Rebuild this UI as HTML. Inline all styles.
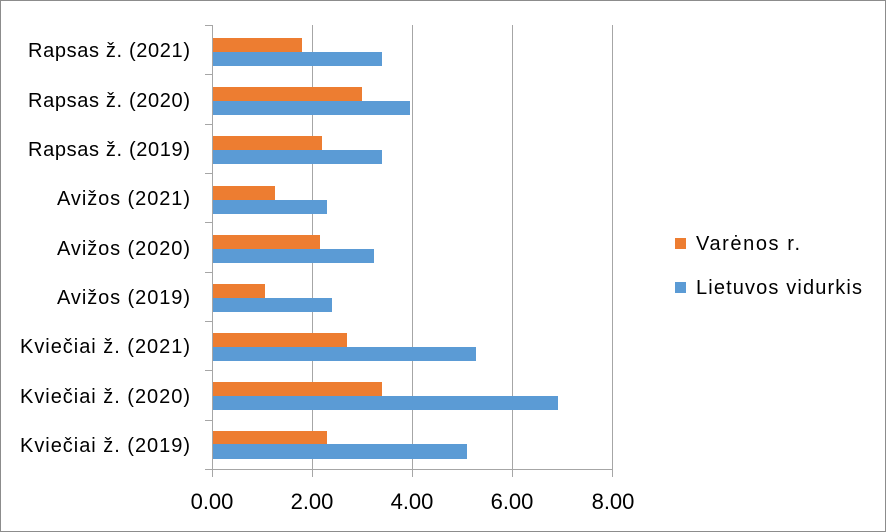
<!DOCTYPE html>
<html><head><style>body{margin:0;background:#fff}svg{display:block}text{font-family:"Liberation Sans",sans-serif;fill:#000}</style></head>
<body>
<svg width="886" height="532" viewBox="0 0 886 532" xmlns="http://www.w3.org/2000/svg">
<rect x="0.5" y="0.5" width="885" height="531" fill="#fff" stroke="#8c8c8c"/>
<g stroke="#a6a6a6" stroke-width="1">
<line x1="312.5" y1="25" x2="312.5" y2="477"/>
<line x1="412.5" y1="25" x2="412.5" y2="477"/>
<line x1="512.5" y1="25" x2="512.5" y2="477"/>
<line x1="612.5" y1="25" x2="612.5" y2="477"/>
<line x1="212.5" y1="25" x2="212.5" y2="477"/>
<line x1="205" y1="469.5" x2="613" y2="469.5"/>
<line x1="205" y1="25.5" x2="212" y2="25.5"/>
<line x1="205" y1="74.5" x2="212" y2="74.5"/>
<line x1="205" y1="124.5" x2="212" y2="124.5"/>
<line x1="205" y1="173.5" x2="212" y2="173.5"/>
<line x1="205" y1="222.5" x2="212" y2="222.5"/>
<line x1="205" y1="272.5" x2="212" y2="272.5"/>
<line x1="205" y1="321.5" x2="212" y2="321.5"/>
<line x1="205" y1="370.5" x2="212" y2="370.5"/>
<line x1="205" y1="420.5" x2="212" y2="420.5"/>
</g>
<g>
<rect x="213" y="38" width="89" height="14" fill="#ed7d31"/><rect x="213" y="52" width="169" height="14" fill="#5b9bd5"/>
<rect x="213" y="87" width="149" height="14" fill="#ed7d31"/><rect x="213" y="101" width="197" height="14" fill="#5b9bd5"/>
<rect x="213" y="136" width="109" height="14" fill="#ed7d31"/><rect x="213" y="150" width="169" height="14" fill="#5b9bd5"/>
<rect x="213" y="186" width="62" height="14" fill="#ed7d31"/><rect x="213" y="200" width="114" height="14" fill="#5b9bd5"/>
<rect x="213" y="235" width="107" height="14" fill="#ed7d31"/><rect x="213" y="249" width="161" height="14" fill="#5b9bd5"/>
<rect x="213" y="284" width="52" height="14" fill="#ed7d31"/><rect x="213" y="298" width="119" height="14" fill="#5b9bd5"/>
<rect x="213" y="333" width="134" height="14" fill="#ed7d31"/><rect x="213" y="347" width="263" height="14" fill="#5b9bd5"/>
<rect x="213" y="382" width="169" height="14" fill="#ed7d31"/><rect x="213" y="396" width="345" height="14" fill="#5b9bd5"/>
<rect x="213" y="431" width="114" height="13" fill="#ed7d31"/><rect x="213" y="444" width="254" height="15" fill="#5b9bd5"/>
</g>
<g font-size="20" text-anchor="end">
<text x="190" y="57" textLength="162">Rapsas ž. (2021)</text>
<text x="190" y="107" textLength="162">Rapsas ž. (2020)</text>
<text x="190" y="156" textLength="162">Rapsas ž. (2019)</text>
<text x="190" y="205" textLength="133">Avižos (2021)</text>
<text x="190" y="255" textLength="133">Avižos (2020)</text>
<text x="190" y="304" textLength="133">Avižos (2019)</text>
<text x="190" y="353" textLength="170">Kviečiai ž. (2021)</text>
<text x="190" y="403" textLength="170">Kviečiai ž. (2020)</text>
<text x="190" y="452" textLength="170">Kviečiai ž. (2019)</text>
</g>
<g font-size="22" text-anchor="middle">
<text x="212" y="509">0.00</text>
<text x="312" y="509">2.00</text>
<text x="412" y="509">4.00</text>
<text x="512" y="509">6.00</text>
<text x="613" y="509">8.00</text>
</g>
<rect x="675" y="238" width="11" height="11" fill="#ed7d31"/>
<text x="696" y="250" font-size="20" textLength="104">Varėnos r.</text>
<rect x="675" y="282" width="11" height="11" fill="#5b9bd5"/>
<text x="696" y="294" font-size="20" textLength="166">Lietuvos vidurkis</text>
</svg>
</body></html>
